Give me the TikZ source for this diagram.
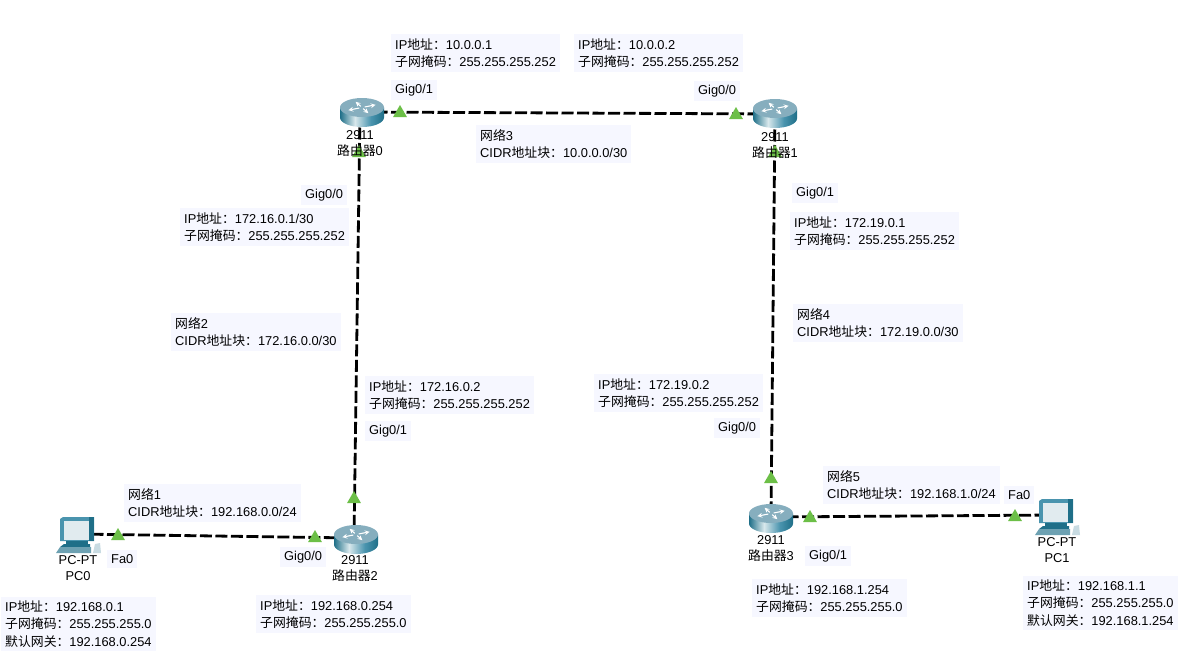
\documentclass[tikz,border=0pt]{standalone}
\usepackage{fontspec}
\setmainfont{Liberation Sans}
\newfontfamily\cjk{Noto Sans CJK SC}
\usetikzlibrary{shapes.geometric}
\definecolor{notebg}{HTML}{F6F7FF}
\definecolor{porton}{HTML}{6CBF47}
\definecolor{teal1}{HTML}{1F6F88}
\definecolor{teal2}{HTML}{86AEBE}
\definecolor{teal3}{HTML}{4A94AE}
\definecolor{tealhi}{HTML}{D8E8EC}
\pgfdeclarehorizontalshading{routerbody}{100bp}{
  color(0bp)=(teal1); color(25bp)=(teal1); color(42bp)=(tealhi);
  color(60bp)=(teal3); color(75bp)=(teal1); color(100bp)=(teal1)}
\newcommand{\ipnote}[2]{IP{\cjk 地址：}#1\\{\cjk 子网掩码：}#2}
\newcommand{\cidrnote}[2]{{\cjk 网络}#1\\CIDR{\cjk 地址块：}#2}
\newcommand{\hostnote}[3]{IP{\cjk 地址：}#1\\{\cjk 子网掩码：}#2\\{\cjk 默认网关：}#3}
\tikzset{
  link/.style={draw=black,line width=2.8pt,dash pattern=on 12pt off 3.5pt},
  porttri/.style={regular polygon,regular polygon sides=3,fill=porton,inner sep=0pt,minimum size=16pt},
  note/.style={anchor=west,align=left,fill=notebg,inner sep=4pt,font=\fontsize{12.85}{17.2}\selectfont},
  devlabel/.style={align=center,inner sep=0pt,font=\fontsize{12.85}{16}\selectfont},
  router/.pic={
    \shade[shading=routerbody]
      (-22,-5.5) -- (-22,4.5) arc[start angle=180,end angle=0,x radius=22,y radius=9.5] -- (22,-5.5) -- cycle;
    \fill[teal2] (0,-5.5) ellipse[x radius=22,y radius=9.5];
    \foreach \a in {25,115,205,295}
      \draw[white,line width=1.1pt,->,>=stealth,shift={(0,-5.5)},yscale=.42,rotate=\a] (3,0) -- (15,0);
  },
  pcicon/.pic={
    \fill[teal3] (-16,-14) -- (-13,-16) -- (18,-16) -- (18,8) -- (-16,8) -- cycle;
    \fill[teal1] (13,-16) -- (18,-16) -- (18,8) -- (13,8) -- cycle;
    \fill[white!75!teal2] (-12,-12) rectangle (13,7);
    \fill[teal1] (-10,8) rectangle (12,11);
    \fill[teal1] (-16,14) -- (-12,11) -- (14,11) -- (14,14) -- cycle;
    \fill[white!35!teal1] (-20,20) -- (-16,14) -- (15,14) -- (15,20) -- cycle;
    \fill[white!55!teal2] (17,20) -- (19,11) -- (24,10) -- (25,20) -- cycle;
  }
}
\begin{document}
\begin{tikzpicture}[x=1pt,y=-1pt]
  \useasboundingbox (0,0) rectangle (1195,672);
  \fill[white] (0,0) rectangle (1195,672);

  \coordinate (router0) at (360,112);
  \coordinate (router1) at (775,114);
  \coordinate (router2) at (354,538);
  \coordinate (router3) at (771,517);
  \coordinate (pc0) at (76,534);
  \coordinate (pc1) at (1055,515);

  \draw[link] (router0) -- (router1);
  \draw[link] (router0) -- (router2);
  \draw[link] (router1) -- (router3);
  \draw[link] (pc0) -- (router2);
  \draw[link] (router3) -- (pc1);

  \node[porttri] (p0) at (400,113) {};
  \node[porttri] (p1) at (736,115) {};
  \node[porttri] (p2) at (359,153) {};
  \node[porttri] (p3) at (775,153) {};
  \node[porttri] (p4) at (354,499) {};
  \node[porttri] (p5) at (771,479) {};
  \node[porttri] (p6) at (118,536) {};
  \node[porttri] (p7) at (315,538) {};
  \node[porttri] (p8) at (810,518) {};
  \node[porttri] (p9) at (1015,517) {};

  \pic at (362,113) {router};
  \pic at (775,114) {router};
  \pic at (356,540) {router};
  \pic at (771,519) {router};
  \pic at (76,533) {pcicon};
  \pic at (1055,515) {pcicon};

  \node[devlabel] (lr0) at (360,144) {2911\\{\cjk 路由器}0};
  \node[devlabel] (lr1) at (775,146) {2911\\{\cjk 路由器}1};
  \node[devlabel] (lr2) at (355,569) {2911\\{\cjk 路由器}2};
  \node[devlabel] (lr3) at (771,549) {2911\\{\cjk 路由器}3};
  \node[devlabel] (lpc0) at (78,568) {PC-PT\\PC0};
  \node[devlabel] (lpc1) at (1057,550) {PC-PT\\PC1};

  \node[note] (n0) at (391,53) {\ipnote{10.0.0.1}{255.255.255.252}};
  \node[note] (n1) at (574,53) {\ipnote{10.0.0.2}{255.255.255.252}};
  \node[note] (n2) at (180,227) {\ipnote{172.16.0.1/30}{255.255.255.252}};
  \node[note] (n3) at (790,231) {\ipnote{172.19.0.1}{255.255.255.252}};
  \node[note] (n4) at (365,395) {\ipnote{172.16.0.2}{255.255.255.252}};
  \node[note] (n5) at (594,393) {\ipnote{172.19.0.2}{255.255.255.252}};
  \node[note] (n6) at (256,614) {\ipnote{192.168.0.254}{255.255.255.0}};
  \node[note] (n7) at (752,598) {\ipnote{192.168.1.254}{255.255.255.0}};
  \node[note] (n8) at (1,624) {\hostnote{192.168.0.1}{255.255.255.0}{192.168.0.254}};
  \node[note] (n9) at (1023,603) {\hostnote{192.168.1.1}{255.255.255.0}{192.168.1.254}};

  \node[note] (c1) at (124,503) {\cidrnote{1}{192.168.0.0/24}};
  \node[note] (c2) at (171,332) {\cidrnote{2}{172.16.0.0/30}};
  \node[note] (c3) at (476,144) {\cidrnote{3}{10.0.0.0/30}};
  \node[note] (c4) at (793,323) {\cidrnote{4}{172.19.0.0/30}};
  \node[note] (c5) at (823,485) {\cidrnote{5}{192.168.1.0/24}};

  \node[note] (g0) at (391,90) {Gig0/1};
  \node[note] (g1) at (694,91) {Gig0/0};
  \node[note] (g2) at (301,195) {Gig0/0};
  \node[note] (g3) at (792,193) {Gig0/1};
  \node[note] (g4) at (365,431) {Gig0/1};
  \node[note] (g5) at (714,428) {Gig0/0};
  \node[note] (g6) at (280,557) {Gig0/0};
  \node[note] (g7) at (805,556) {Gig0/1};
  \node[note] (f0) at (107,559) {Fa0};
  \node[note] (f1) at (1004,495) {Fa0};
\end{tikzpicture}
\end{document}
